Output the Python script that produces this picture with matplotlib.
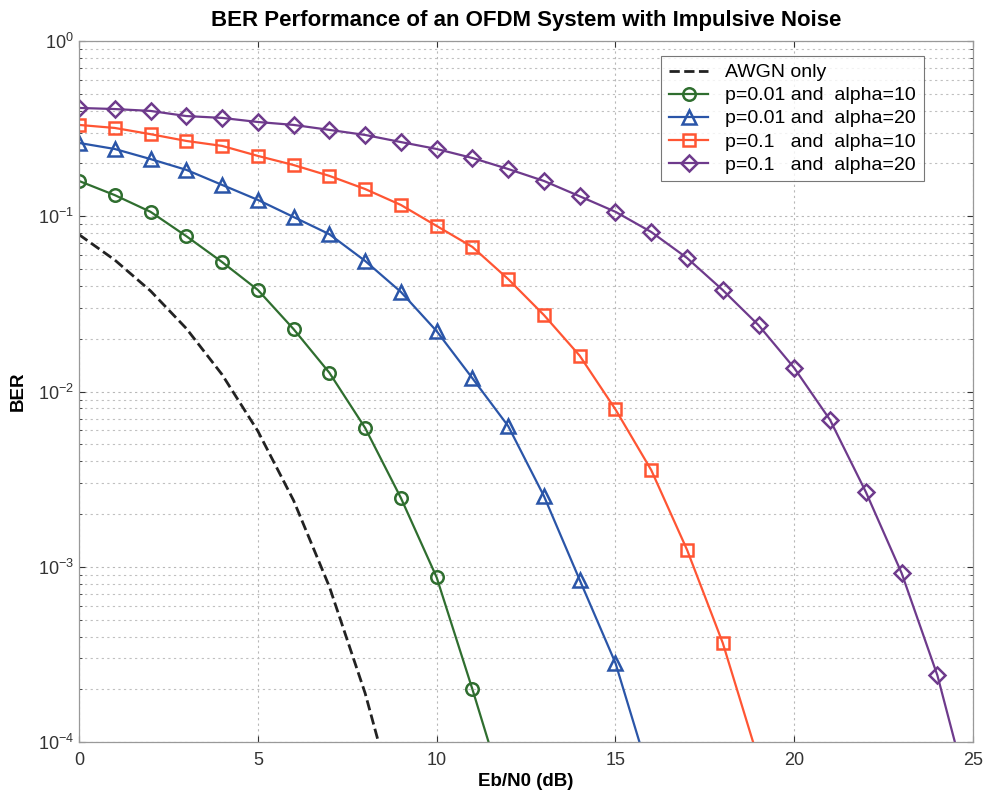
import matplotlib
matplotlib.use("Agg")
import matplotlib.pyplot as plt
from matplotlib.ticker import LogLocator, FixedLocator, NullFormatter

plt.rcParams['font.family'] = ['Liberation Sans', 'DejaVu Sans']

ebn0 = list(range(0, 26))

awgn_x = [0, 1, 2, 3, 4, 5, 6, 7, 8, 9]
awgn = [0.0786, 0.0563, 0.0375, 0.0229, 0.0125, 0.00595, 0.00239, 0.00077, 0.00019, 3.4e-5]

p001_a10 = [0.159, 0.132, 0.106, 0.077, 0.0548, 0.038, 0.0227, 0.0128, 0.0062,
            0.00247, 0.00087, 0.0002, 4.3e-5]
p001_a20 = [0.262, 0.242, 0.212, 0.184, 0.151, 0.124, 0.099, 0.079, 0.0556, 0.037,
            0.0221, 0.0119, 0.00635, 0.00253, 0.00084, 0.000282, 6e-5]
p01_a10 = [0.332, 0.319, 0.294, 0.269, 0.252, 0.221, 0.196, 0.170, 0.143, 0.116,
           0.088, 0.0668, 0.0438, 0.0273, 0.0160, 0.0079, 0.00356, 0.00125,
           0.000367, 7.9e-5]
p01_a20 = [0.415, 0.409, 0.399, 0.373, 0.364, 0.345, 0.332, 0.311, 0.291, 0.265,
           0.242, 0.215, 0.186, 0.159, 0.130, 0.106, 0.0813, 0.0578, 0.0379,
           0.0239, 0.0136, 0.00688, 0.00267, 0.00092, 0.00024, 4e-5]

labels = ['AWGN only', 'p=0.01 and  alpha=10', 'p=0.01 and  alpha=20',
          'p=0.1   and  alpha=10', 'p=0.1   and  alpha=20']

fig = plt.figure(figsize=(9.91, 7.99), dpi=100)
ax = fig.add_axes([0.0797, 0.0713, 0.9023, 0.8774])

ax.semilogy(awgn_x, awgn, '--', color='#222222', lw=2.0, label=labels[0])
ax.semilogy(ebn0[:len(p001_a10)], p001_a10, '-o', color='#2f6e2f', lw=1.6,
            ms=9, mfc='none', mew=1.8, label=labels[1])
ax.semilogy(ebn0[:len(p001_a20)], p001_a20, '-^', color='#2a55a8', lw=1.6,
            ms=10, mfc='none', mew=1.8, label=labels[2])
ax.semilogy(ebn0[:len(p01_a10)], p01_a10, '-s', color='#ff5533', lw=1.6,
            ms=9, mfc='none', mew=1.8, label=labels[3])
ax.semilogy(ebn0[:len(p01_a20)], p01_a20, '-D', color='#6e3a8c', lw=1.6,
            ms=8, mfc='none', mew=1.8, label=labels[4])

ax.set_xlim(0, 25)
ax.set_ylim(1e-4, 1)
ax.xaxis.set_major_locator(FixedLocator([0, 5, 10, 15, 20, 25]))
ax.yaxis.set_major_locator(LogLocator(base=10, numticks=10))
ax.yaxis.set_minor_locator(LogLocator(base=10, subs=range(2, 10), numticks=20))
ax.yaxis.set_minor_formatter(NullFormatter())

ax.grid(True, which='major', color='#b8b8b8', ls=(0, (2, 3)), lw=0.8)
ax.grid(True, which='minor', axis='y', color='#c0c0c0', ls=(0, (2, 3)), lw=0.8)

ax.tick_params(direction='in', which='both', top=True, right=True,
               labelsize=13, colors='#333333', length=4)
ax.tick_params(axis='x', pad=7)
ax.tick_params(which='minor', length=2)
for s in ax.spines.values():
    s.set_color('#999999')
    s.set_linewidth(0.9)

ax.set_title('BER Performance of an OFDM System with Impulsive Noise',
             fontsize=16, fontweight='bold', pad=11)
ax.set_xlabel('Eb/N0 (dB)', fontsize=13.5, fontweight='bold', labelpad=3)
ax.set_ylabel('BER', fontsize=13.5, fontweight='bold', labelpad=8)

leg = ax.legend(loc='upper right', bbox_to_anchor=(0.945, 0.9786), fontsize=14,
                frameon=True, fancybox=False, edgecolor='#555555',
                handlelength=2.0, borderpad=0.4, labelspacing=0.28,
                handletextpad=0.9, borderaxespad=0)
leg.get_frame().set_linewidth(0.8)

fig.savefig('out.png', dpi=100)
